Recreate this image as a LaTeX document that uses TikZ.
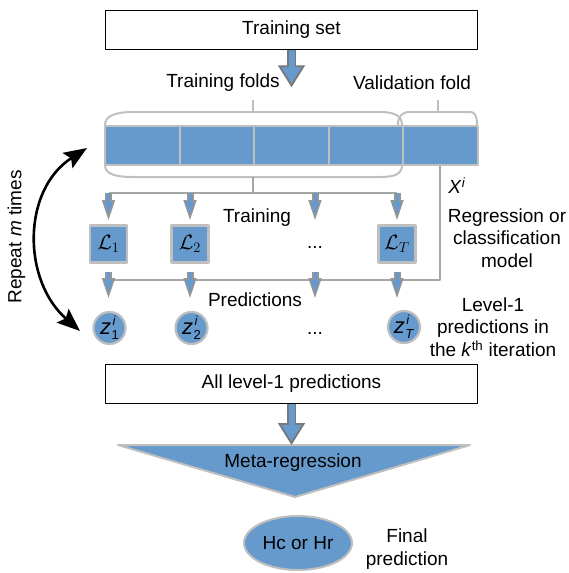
\documentclass[tikz,border=0pt]{standalone}
\usepackage{fontspec}
\setmainfont{Liberation Sans}
\usetikzlibrary{arrows.meta,calc,shapes.geometric}
\definecolor{foldblue}{RGB}{102,153,204}
\definecolor{rimgray}{RGB}{191,191,191}
\definecolor{linegray}{RGB}{166,166,166}
\definecolor{arrgray}{RGB}{120,120,120}
\definecolor{smallgray}{RGB}{150,150,150}
\newcommand{\zscr}{\fontsize{13}{13}\selectfont}
\newcommand{\zlab}[1]{{\fontsize{22}{22}\selectfont\textit{z}\kern0.5pt\rlap{\raisebox{8.5pt}{\zscr\kern1pt\textit{i}}}\raisebox{-5pt}{\zscr #1}}}
\tikzset{
  lbl/.style={font=\fontsize{19}{22.5}\selectfont, align=center, inner sep=0pt},
  plainbox/.style={lbl, draw=black, line width=1.5pt, fill=white, minimum width=372pt, minimum height=39pt},
  fold/.style={draw=rimgray, fill=foldblue, line width=2pt, minimum width=74.5pt, minimum height=39pt},
  model/.style={lbl, font=\fontsize{22}{22}\selectfont, draw=rimgray, fill=foldblue, line width=2.2pt, minimum size=37pt},
  zcirc/.style={lbl, circle, draw=rimgray, fill=foldblue, line width=2.2pt, minimum size=32pt},
  final/.style={lbl, ellipse, draw=rimgray, fill=foldblue, line width=2pt, minimum width=108pt, minimum height=54pt},
  conn/.style={draw=linegray, line width=2pt},
  bracket/.style={draw=rimgray, line width=2pt},
  fatarr/.style={draw=arrgray, line width=9.5pt, -{Triangle[width=27pt,length=22pt,line width=1.8pt,fill=foldblue]},
    postaction={draw=foldblue, line width=6pt, shorten >=19pt, arrows=-}},
  smallarr/.style={draw=smallgray, line width=7pt, -{Triangle[width=13pt,length=20pt,line width=1.5pt,fill=foldblue]},
    postaction={draw=foldblue, line width=3pt, shorten >=17pt, arrows=-}}
}
\begin{document}
\begin{tikzpicture}[x=1pt,y=-1pt,line join=round]
\useasboundingbox (0,0) rectangle (569,573);
% boxes
\node[plainbox] (set) at (291.5,30) {Training set};
\node[plainbox] (all) at (291.5,384) {All level-1 predictions};
% fold brackets
\draw[bracket] (105,125) .. controls (105,116) and (115,112) .. (133,112) -- (380,112)
  .. controls (395,112) and (402,116) .. (402,125);
\draw[bracket] (105,165) .. controls (105,174) and (115,177) .. (133,177) -- (380,177)
  .. controls (395,177) and (402,174) .. (402,165);
\draw[bracket] (398,125) .. controls (398,116) and (402,112) .. (410,112) -- (470,112)
  .. controls (475,112) and (477,116) .. (477,125);
\draw[bracket] (253,100) -- (253,112);
\draw[bracket] (438,100) -- (438,112);
\node[lbl] (tf) at (223,83) {Training folds};
\node[lbl] (vf) at (412,83) {Validation fold};
\foreach \i in {1,...,5}
  \node[fold] (f\i) at ({142.25+74.5*(\i-1)},145) {};
% models and level-1 predictions
\node[model] (L1) at (108.5,244) {$\mathcal{L}_1$};
\node[model] (L2) at (190,244) {$\mathcal{L}_2$};
\node[lbl] (d1) at (315,247) {...};
\node[model] (LT) at (397,244) {$\mathcal{L}_T$};
\node[zcirc] (z1) at (109.5,328) {\zlab{1}};
\node[zcirc] (z2) at (191.5,328) {\zlab{2}};
\node[lbl] (d2) at (315,333) {...};
\node[zcirc] (zT) at (404,327) {\zlab{\textit{T}}};
\node[lbl] (trn) at (257,218) {Training};
\node[lbl] (prd) at (255,300) {Predictions};
\node[lbl] (xi) at (457,186) {\textit{X}\textsuperscript{\textit{i}}};
\node[lbl] (rc) at (507,238) {Regression or\\classification\\model};
\node[lbl] (lv) at (493,327) {Level-1\\predictions in\\the \textit{k}\textsuperscript{th} iteration};
% connectors
\coordinate (split) at (253,193);
\coordinate (tipA) at (0,220);
\coordinate (pred) at (0,280);
\coordinate (predtop) at (0,272);
\coordinate (tipB) at (0,298);
\draw[conn] (253,177) -- (split);
\draw[conn] (L1 |- split) -- (LT |- split);
\foreach \n in {L1,L2,d1,LT}
  \draw[smallarr] (\n |- split) -- (\n |- tipA);
\draw[conn] (f5.south) |- (L1 |- pred);
\foreach \n in {L1,L2,d2,LT}
  \draw[smallarr] (\n |- predtop) -- (\n |- tipB);
\draw[fatarr] (set.south) -- ++(0,37);
% meta-regression
\draw[draw=rimgray, fill=foldblue, line width=2pt] (118,445) -- (470,445) -- (295,497) -- cycle;
\coordinate (metatop) at (291.5,445);
\node[lbl] (meta) at (293,463) {Meta-regression};
\draw[fatarr] (all.south) -- (metatop);
\node[final] (hc) at (298,543) {Hc or Hr};
\node[lbl] (fp) at (407,549) {Final\\prediction};
% repeat
\coordinate (rtop) at (87,148);
\coordinate (rbot) at (80,331);
\draw[line width=2.6pt, {Stealth[length=23pt,width=18pt,inset=4pt]}-{Stealth[length=23pt,width=18pt,inset=4pt]}]
  (rtop) .. controls (22,190) and (22,280) .. (rbot);
\node[lbl, rotate=90] (rep) at (16.5,237) {Repeat \textit{m} times};
\end{tikzpicture}
\end{document}
